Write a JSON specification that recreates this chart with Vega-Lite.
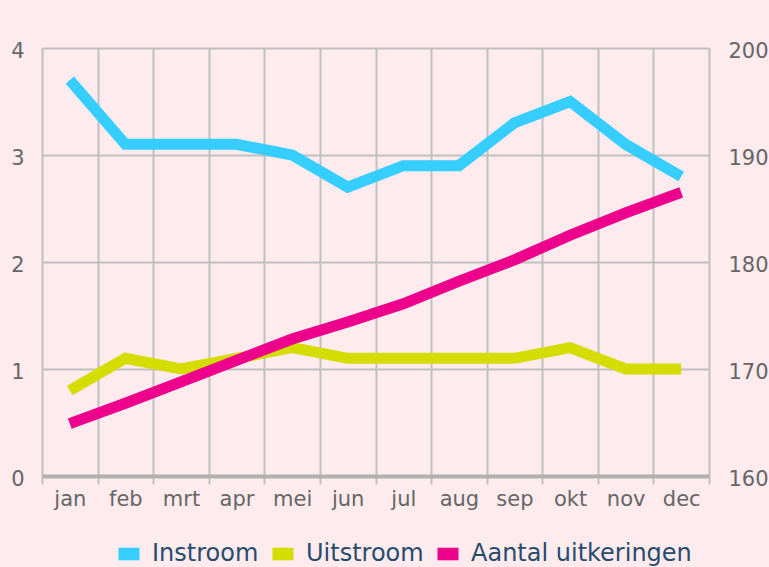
{
  "$schema": "https://vega.github.io/schema/vega-lite/v6.json",
  "width": 667,
  "height": 428,
  "autosize": {"type": "none"},
  "padding": {"left": 42, "top": 48, "right": 60, "bottom": 91},
  "background": "#fdebee",
  "config": {"view": {"stroke": null}, "font": "DejaVu Sans"},
  "data": {
    "values": [
      {"maand": "jan", "serie": "Instroom", "waarde": 3.7},
      {"maand": "feb", "serie": "Instroom", "waarde": 3.1},
      {"maand": "mrt", "serie": "Instroom", "waarde": 3.1},
      {"maand": "apr", "serie": "Instroom", "waarde": 3.1},
      {"maand": "mei", "serie": "Instroom", "waarde": 3.0},
      {"maand": "jun", "serie": "Instroom", "waarde": 2.7},
      {"maand": "jul", "serie": "Instroom", "waarde": 2.9},
      {"maand": "aug", "serie": "Instroom", "waarde": 2.9},
      {"maand": "sep", "serie": "Instroom", "waarde": 3.3},
      {"maand": "okt", "serie": "Instroom", "waarde": 3.5},
      {"maand": "nov", "serie": "Instroom", "waarde": 3.1},
      {"maand": "dec", "serie": "Instroom", "waarde": 2.8},
      {"maand": "jan", "serie": "Uitstroom", "waarde": 0.8},
      {"maand": "feb", "serie": "Uitstroom", "waarde": 1.1},
      {"maand": "mrt", "serie": "Uitstroom", "waarde": 1.0},
      {"maand": "apr", "serie": "Uitstroom", "waarde": 1.1},
      {"maand": "mei", "serie": "Uitstroom", "waarde": 1.2},
      {"maand": "jun", "serie": "Uitstroom", "waarde": 1.1},
      {"maand": "jul", "serie": "Uitstroom", "waarde": 1.1},
      {"maand": "aug", "serie": "Uitstroom", "waarde": 1.1},
      {"maand": "sep", "serie": "Uitstroom", "waarde": 1.1},
      {"maand": "okt", "serie": "Uitstroom", "waarde": 1.2},
      {"maand": "nov", "serie": "Uitstroom", "waarde": 1.0},
      {"maand": "dec", "serie": "Uitstroom", "waarde": 1.0},
      {"maand": "jan", "serie": "Aantal uitkeringen", "waarde": 164.9},
      {"maand": "feb", "serie": "Aantal uitkeringen", "waarde": 166.8},
      {"maand": "mrt", "serie": "Aantal uitkeringen", "waarde": 168.8},
      {"maand": "apr", "serie": "Aantal uitkeringen", "waarde": 170.8},
      {"maand": "mei", "serie": "Aantal uitkeringen", "waarde": 172.8},
      {"maand": "jun", "serie": "Aantal uitkeringen", "waarde": 174.4},
      {"maand": "jul", "serie": "Aantal uitkeringen", "waarde": 176.1},
      {"maand": "aug", "serie": "Aantal uitkeringen", "waarde": 178.2},
      {"maand": "sep", "serie": "Aantal uitkeringen", "waarde": 180.2},
      {"maand": "okt", "serie": "Aantal uitkeringen", "waarde": 182.5},
      {"maand": "nov", "serie": "Aantal uitkeringen", "waarde": 184.6},
      {"maand": "dec", "serie": "Aantal uitkeringen", "waarde": 186.5}
    ]
  },
  "encoding": {
    "x": {
      "field": "maand",
      "type": "ordinal",
      "sort": ["jan", "feb", "mrt", "apr", "mei", "jun", "jul", "aug", "sep", "okt", "nov", "dec"],
      "scale": {"paddingInner": 0, "paddingOuter": 0},
      "axis": {
        "title": null,
        "tickBand": "extent",
        "labelAngle": 0,
        "labelFont": "DejaVu Sans",
        "labelFontSize": 21,
        "labelColor": "#666666",
        "labelBaseline": "alphabetic",
        "labelPadding": 21,
        "domainColor": "#b0b0b0",
        "domainWidth": 4,
        "tickColor": "#c0c0c0",
        "tickWidth": 2,
        "tickSize": 8,
        "grid": true,
        "gridColor": "#c0c0c0",
        "gridWidth": 2,
        "zindex": 0
      }
    },
    "color": {
      "field": "serie",
      "type": "nominal",
      "scale": {
        "domain": ["Instroom", "Uitstroom", "Aantal uitkeringen"],
        "range": ["#36cdff", "#d4dc00", "#ec008c"]
      },
      "legend": {
        "title": null,
        "orient": "none",
        "direction": "horizontal",
        "legendX": 75,
        "legendY": 494,
        "symbolType": "M-1,-0.6H1V0.6H-1Z",
        "symbolSize": 441,
        "symbolStrokeWidth": 0,
        "labelFont": "DejaVu Sans",
        "labelFontSize": 24,
        "labelColor": "#274b6d",
        "labelOffset": 11,
        "columnPadding": 12,
        "labelLimit": 400,
        "encode": {
          "symbols": {
            "update": {
              "fill": {"scale": "color", "field": "value"},
              "fillOpacity": {"value": 1}
            }
          }
        }
      }
    }
  },
  "layer": [
    {
      "transform": [{"filter": "datum.serie !== 'Aantal uitkeringen'"}],
      "mark": {"type": "line", "strokeWidth": 11, "strokeJoin": "miter", "strokeCap": "butt"},
      "encoding": {
        "y": {
          "field": "waarde",
          "type": "quantitative",
          "scale": {"domain": [0, 4], "nice": false},
          "axis": {
            "title": null,
            "values": [0, 1, 2, 3, 4],
            "domain": false,
            "ticks": false,
            "labelPadding": 18,
            "labelOffset": 3,
            "labelFont": "DejaVu Sans",
            "labelFontSize": 21,
            "labelColor": "#666666",
            "grid": true,
            "gridColor": "#c0c0c0",
            "gridWidth": 2,
            "zindex": 0
          }
        }
      }
    },
    {
      "transform": [{"filter": "datum.serie === 'Aantal uitkeringen'"}],
      "mark": {"type": "line", "strokeWidth": 11, "strokeJoin": "miter", "strokeCap": "butt"},
      "encoding": {
        "y": {
          "field": "waarde",
          "type": "quantitative",
          "scale": {"domain": [160, 200], "nice": false},
          "axis": {
            "title": null,
            "orient": "right",
            "values": [160, 170, 180, 190, 200],
            "domain": false,
            "ticks": false,
            "grid": false,
            "labelPadding": 19,
            "labelOffset": 3,
            "labelFont": "DejaVu Sans",
            "labelFontSize": 21,
            "labelColor": "#666666"
          }
        }
      }
    }
  ],
  "resolve": {"scale": {"y": "independent"}}
}
